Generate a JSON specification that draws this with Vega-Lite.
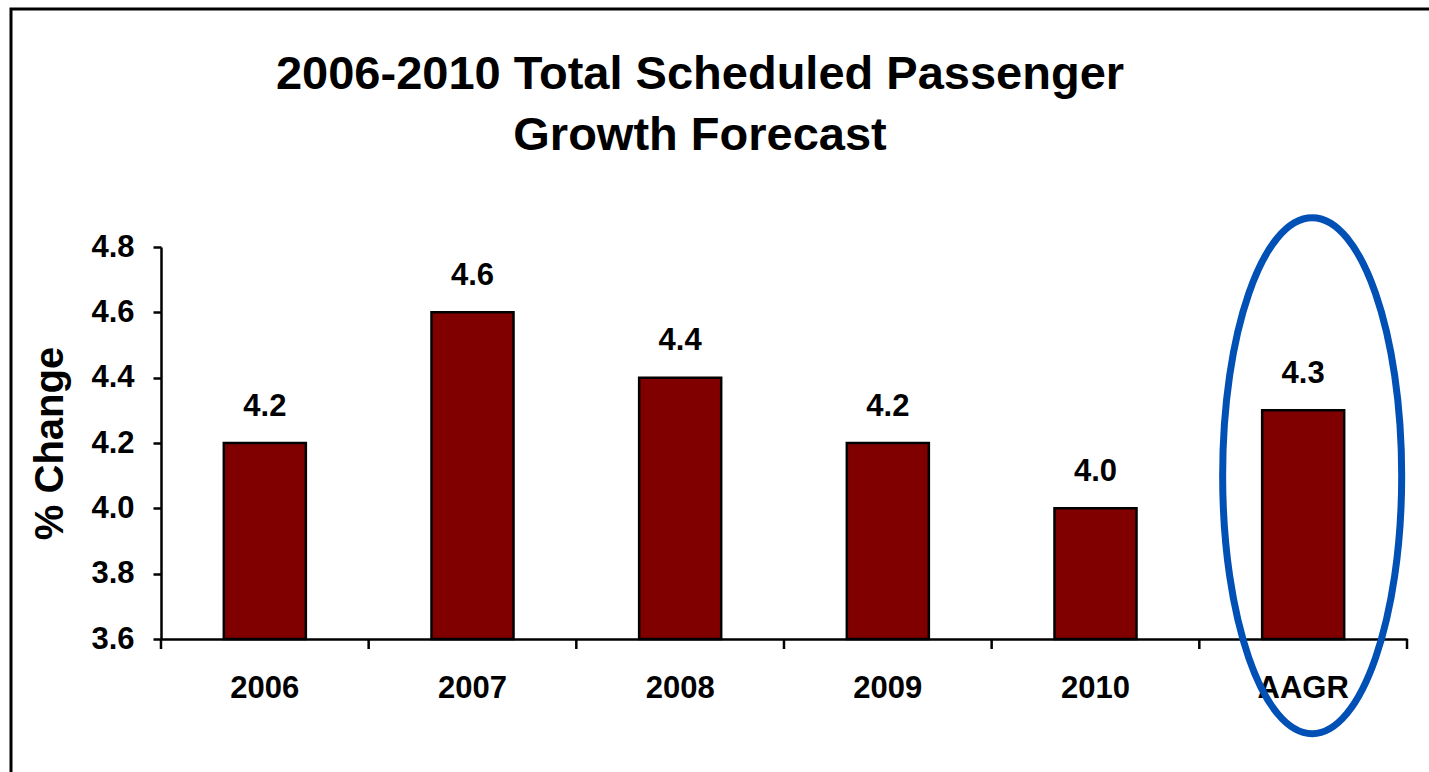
{
  "$schema": "https://vega.github.io/schema/vega-lite/v6.json",
  "autosize": {"type": "none"},
  "width": 1418,
  "height": 763,
  "padding": {"left": 11, "top": 9, "right": 0, "bottom": 0},
  "background": "white",
  "config": {
    "font": "Liberation Sans",
    "view": {"stroke": "black", "strokeWidth": 3, "strokeDash": [1418, 2181, 763]}
  },
  "title": {
    "text": ["2006-2010 Total Scheduled Passenger", "Growth Forecast"],
    "font": "Liberation Sans",
    "fontSize": 47,
    "fontWeight": "bold",
    "color": "black",
    "anchor": "middle",
    "frame": "group",
    "baseline": "top",
    "offset": -150.5,
    "dx": -20,
    "lineHeight": 61
  },
  "data": {
    "values": [
      {"cat": "2006", "value": 4.2},
      {"cat": "2007", "value": 4.6},
      {"cat": "2008", "value": 4.4},
      {"cat": "2009", "value": 4.2},
      {"cat": "2010", "value": 4.0},
      {"cat": "AAGR", "value": 4.3}
    ]
  },
  "encoding": {
    "x": {
      "field": "cat", "type": "nominal", "sort": null,
      "scale": {"range": [150, 1396], "paddingInner": 0.605, "paddingOuter": 0.3025},
      "axis": {"title": null, "ticks": false, "tickSize": 0, "labelFont": "Liberation Sans", "labelFontSize": 31, "labelFontWeight": "bold", "labelColor": "black", "labelAngle": 0, "labelBaseline": "alphabetic", "labelPadding": 58, "domainColor": "black", "domainWidth": 2.5, "offset": -133, "grid": false}
    },
    "y": {
      "field": "value", "type": "quantitative",
      "scale": {"domain": [3.6, 4.8], "range": [630, 238], "nice": false, "zero": false},
      "axis": {"title": "% Change", "titleFont": "Liberation Sans", "titleFontSize": 40, "titleFontWeight": "bold", "titleColor": "black", "titleX": -99, "titleBaseline": "alphabetic", "titleAngle": -90, "values": [3.6, 3.8, 4.0, 4.2, 4.4, 4.6, 4.8], "format": ".1f", "labelFont": "Liberation Sans", "labelFontSize": 31, "labelFontWeight": "bold", "labelColor": "black", "labelPadding": 19, "tickSize": 8, "tickWidth": 2.5, "tickColor": "black", "domainColor": "black", "domainWidth": 2.5, "grid": false, "offset": -150}
    }
  },
  "layer": [
    {
      "mark": {"type": "bar", "fill": "#800000", "stroke": "black", "strokeWidth": 2.5},
      "encoding": {"y2": {"datum": 3.6}}
    },
    {
      "mark": {"type": "text", "dy": -27.5, "baseline": "alphabetic", "font": "Liberation Sans", "fontSize": 31, "fontWeight": "bold", "color": "black"},
      "encoding": {"text": {"field": "value", "type": "quantitative", "format": ".1f"}}
    },
    {
      "mark": {"type": "rule", "stroke": "black", "strokeWidth": 2.5, "y2Offset": 10},
      "encoding": {
        "x": {"field": "cat", "type": "nominal", "sort": null, "bandPosition": -0.766},
        "y": {"datum": 3.6},
        "y2": {"datum": 3.6}
      }
    },
    {
      "transform": [{"filter": "datum.cat === 'AAGR'"}],
      "mark": {"type": "rule", "stroke": "black", "strokeWidth": 2.5, "y2Offset": 10},
      "encoding": {
        "x": {"field": "cat", "type": "nominal", "sort": null, "bandPosition": 1.766},
        "y": {"datum": 3.6},
        "y2": {"datum": 3.6}
      }
    },
    {
      "transform": [{"filter": "datum.cat === 'AAGR'"}],
      "mark": {
        "type": "point",
        "shape": "M0,-1 C0.1916,-1 0.347,-0.5523 0.347,0 C0.347,0.5523 0.1916,1 0,1 C-0.1916,1 -0.347,0.5523 -0.347,0 C-0.347,-0.5523 -0.1916,-1 0,-1 Z",
        "size": 266256,
        "filled": false,
        "fill": null,
        "stroke": "#0050B5",
        "strokeWidth": 7,
        "opacity": 1,
        "xOffset": 9
      },
      "encoding": {"y": {"datum": 4.1}}
    }
  ]
}
